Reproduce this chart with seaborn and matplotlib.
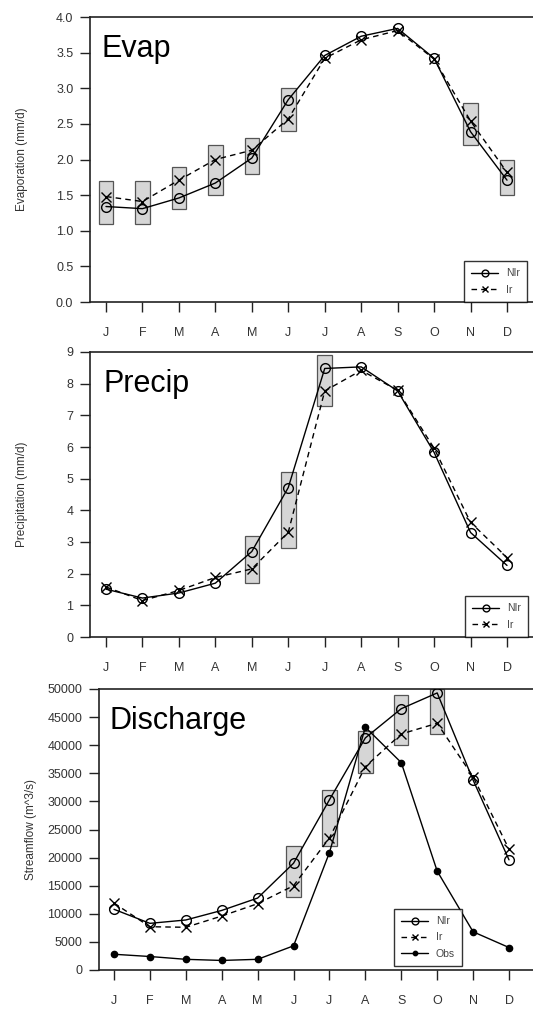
import numpy as np
import pandas as pd
import matplotlib
matplotlib.use("Agg")
import matplotlib.pyplot as plt
import seaborn as sns

sns.set_theme(style="white")
plt.rcParams["font.family"] = ["Liberation Sans", "DejaVu Sans"]

months = ["J", "F", "M", "A", "M", "J", "J", "A", "S", "O", "N", "D"]
month_num = list(range(1, 13))

# Evaporation (mm/d)
evap_nir = [1.34, 1.31, 1.46, 1.67, 2.02, 2.84, 3.46, 3.73, 3.84, 3.42, 2.39, 1.71]
evap_ir = [1.48, 1.41, 1.71, 2.00, 2.13, 2.57, 3.42, 3.68, 3.81, 3.41, 2.54, 1.82]
evap_box_month = [1, 2, 3, 4, 5, 6, 11, 12]
evap_box_low = [1.1, 1.1, 1.3, 1.5, 1.8, 2.4, 2.2, 1.5]
evap_box_high = [1.7, 1.7, 1.9, 2.2, 2.3, 3.0, 2.8, 2.0]

# Precipitation (mm/d)
prec_nir = [1.51, 1.23, 1.39, 1.70, 2.70, 4.72, 8.48, 8.53, 7.77, 5.83, 3.30, 2.26]
prec_ir = [1.58, 1.15, 1.47, 1.88, 2.15, 3.31, 7.77, 8.42, 7.79, 5.96, 3.62, 2.51]
prec_box_month = [5, 6, 7]
prec_box_low = [1.7, 2.8, 7.3]
prec_box_high = [3.2, 5.2, 8.9]

# Streamflow (m^3/s)
flow_nir = [10800, 8300, 8900, 10600, 12800, 19000, 30300, 41300, 46500, 49300, 33800, 19600]
flow_ir = [11900, 7700, 7600, 9600, 11800, 15000, 23500, 36200, 42000, 43900, 34400, 21500]
flow_obs = [2800, 2400, 1900, 1700, 1900, 4300, 20900, 43200, 36900, 17600, 6800, 4000]
flow_box_month = [6, 7, 8, 9, 10]
flow_box_low = [13000, 22000, 35000, 40000, 42000]
flow_box_high = [22000, 32000, 42500, 49000, 50000]

W, H = 533, 1009
fig = plt.figure(figsize=(W / 100, H / 100), dpi=100)
fig.patch.set_facecolor("white")


def px_axes(left, right, top, bottom):
    return fig.add_axes([left / W, 1 - bottom / H, (right - left) / W, (bottom - top) / H])


series_style = {
    "NIr": dict(marker="o", ms=7, mfc="none", mec="black", ls="-"),
    "Ir": dict(marker="x", ms=7, mfc="none", mec="black", ls=(0, (4, 3))),
    "Obs": dict(marker="o", ms=4.5, mfc="black", mec="black", ls="-"),
}


def panel(ax, title, ylabel, ylim, yticks, yticklabels, series, box_month, box_low, box_high,
          x_first_px, x_last_px, left_px, title_px, ylabel_px, legend_kw):
    # shaded ranges behind the curves
    ax.bar(box_month, np.array(box_high) - np.array(box_low), bottom=box_low, width=0.4,
           color="#d6d6d6", edgecolor="#555555", linewidth=0.9, zorder=1)

    frames = []
    for name, vals in series.items():
        frames.append(pd.DataFrame({"month": month_num, "value": vals, "series": name}))
    df = pd.concat(frames, ignore_index=True)

    handles = []
    for name in series:
        st = series_style[name]
        sns.lineplot(data=df[df["series"] == name], x="month", y="value", ax=ax,
                     color="black", linewidth=1.0, linestyle=st["ls"], marker=st["marker"],
                     markersize=st["ms"], markerfacecolor=st["mfc"], markeredgecolor=st["mec"],
                     markeredgewidth=1.0, zorder=3, legend=False)
        handles.append(plt.Line2D([], [], color="black", linewidth=1.0, linestyle=st["ls"],
                                  marker=st["marker"], markersize=st["ms"] * 0.7,
                                  markerfacecolor=st["mfc"], markeredgecolor=st["mec"]))

    ax_w = W + 3 - left_px
    scale = (x_last_px - x_first_px) / 11.0
    xmin = 1 - (x_first_px - left_px) / scale
    xmax = 1 + (W + 3 - x_first_px) / scale
    ax.set_xlim(xmin, xmax)
    ax.set_ylim(*ylim)
    ax.set_xticks(month_num)
    ax.set_xticklabels(months)
    ax.set_yticks(yticks)
    ax.set_yticklabels(yticklabels)
    ax.set_xlabel("")
    ax.set_ylabel(ylabel, fontsize=8.5, color="#333333")
    ax.yaxis.set_label_coords((ylabel_px - left_px) / ax_w, 0.5)
    ax.tick_params(axis="both", which="both", direction="out", length=7, width=1.0,
                   colors="#222222", labelsize=9, labelcolor="#333333")
    ax.tick_params(axis="x", pad=11, bottom=True)
    ax.tick_params(axis="y", pad=5, left=True)
    for side in ["left", "bottom", "top"]:
        ax.spines[side].set_visible(True)
        ax.spines[side].set_color("#222222")
        ax.spines[side].set_linewidth(1.2)
    ax.spines["right"].set_visible(False)
    ax.text((title_px - left_px) / ax_w, 0.94, title, transform=ax.transAxes, ha="left",
            va="top", fontsize=22, color="black")

    leg = ax.legend(handles, list(series.keys()), fontsize=7.5, frameon=True,
                    handlelength=2.6, handletextpad=0.7, labelspacing=0.6,
                    borderpad=0.7, fancybox=False, **legend_kw)
    leg.get_frame().set_edgecolor("black")
    leg.get_frame().set_linewidth(1.0)
    for t in leg.get_texts():
        t.set_color("#444444")


ax1 = px_axes(90, W + 3, 17, 302)
panel(ax1, "Evap", "Evaporation (mm/d)", (0, 4.0),
      np.arange(0, 4.01, 0.5), [f"{v:.1f}" for v in np.arange(0, 4.01, 0.5)],
      {"NIr": evap_nir, "Ir": evap_ir}, evap_box_month, evap_box_low, evap_box_high,
      106, 507, 90, 102, 28,
      dict(loc="lower left", bbox_to_anchor=(464 / W, 1 - 302 / H),
           bbox_transform=fig.transFigure, borderaxespad=0))

ax2 = px_axes(90, W + 3, 352, 637)
panel(ax2, "Precip", "Precipitation (mm/d)", (0, 9),
      list(range(0, 10)), [str(v) for v in range(0, 10)],
      {"NIr": prec_nir, "Ir": prec_ir}, prec_box_month, prec_box_low, prec_box_high,
      106, 507, 90, 104, 28,
      dict(loc="lower left", bbox_to_anchor=(465 / W, 1 - 637 / H),
           bbox_transform=fig.transFigure, borderaxespad=0))

ax3 = px_axes(99, W + 3, 689, 970)
panel(ax3, "Discharge", "Streamflow (m^3/s)", (0, 50000),
      list(range(0, 50001, 5000)), [str(v) for v in range(0, 50001, 5000)],
      {"NIr": flow_nir, "Ir": flow_ir, "Obs": flow_obs}, flow_box_month, flow_box_low,
      flow_box_high, 114, 509, 99, 110, 37,
      dict(loc="lower left", bbox_to_anchor=(394 / W, 1 - 966 / H),
           bbox_transform=fig.transFigure, borderaxespad=0))

fig.savefig("out.png", dpi=100, facecolor="white")
